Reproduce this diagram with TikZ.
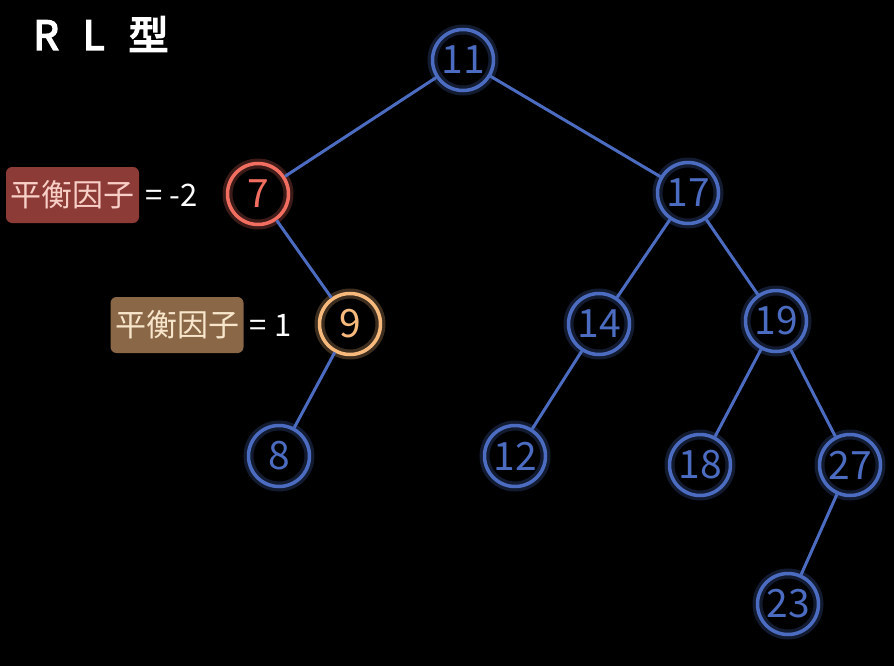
\documentclass[tikz,border=0pt]{standalone}
\usepackage{fontspec}
\setmainfont{Noto Sans CJK SC}
\newfontfamily\titlefont{Noto Sans CJK SC}[FakeBold=4]
\usetikzlibrary{positioning}
\definecolor{treeblue}{HTML}{4B6CC0}
\definecolor{treered}{HTML}{F26E60}
\definecolor{treeorange}{HTML}{F7BA7C}
\definecolor{tagred}{HTML}{8C3B37}
\definecolor{tagredtext}{HTML}{F8CFC7}
\definecolor{tagbrown}{HTML}{8A6746}
\definecolor{tagbrowntext}{HTML}{F7E6CB}
\tikzset{
  key/.style={circle, minimum size=61pt, inner sep=0pt, line width=3.5pt,
    draw=#1, text=#1, font=\fontsize{39}{42}\selectfont,
    preaction={draw=#1, line width=10pt, draw opacity=0.25}},
  key/.default=treeblue,
  edge/.style={treeblue, line width=3pt},
  tag/.style={rounded corners=6pt, minimum height=56pt, minimum width=133pt,
    inner xsep=2pt, font=\fontsize{31}{34}\selectfont},
  eqtext/.style={text=white, inner sep=0pt, font=\fontsize{31}{34}\selectfont}
}
\begin{document}
\begin{tikzpicture}[x=1pt,y=-1pt]
\fill[black] (0,0) rectangle (894,666);
\useasboundingbox (0,0) rectangle (894,666);
\node[text=white, font=\titlefont\fontsize{40}{44}\selectfont] (title) at (101,34) {R\hspace{24pt}L\hspace{24pt}型};
% tree
\node[key] (n11) at (463,60) {11};
\node[key=treered] (n7) at (258,194) {7};
\node[key] (n17) at (688,193) {17};
\node[key=treeorange] (n9) at (350,324) {9};
\node[key] (n14) at (599,324) {14};
\node[key] (n19) at (776,321) {19};
\node[key] (n8) at (279,456) {8};
\node[key] (n12) at (515,456) {12};
\node[key] (n18) at (700,465) {18};
\node[key] (n27) at (850,465) {27};
\node[key] (n23) at (788,604) {23};
\draw[edge] (n11) -- (n7); \draw[edge] (n11) -- (n17);
\draw[edge] (n7) -- (n9); \draw[edge] (n9) -- (n8);
\draw[edge] (n17) -- (n14); \draw[edge] (n17) -- (n19);
\draw[edge] (n14) -- (n12);
\draw[edge] (n19) -- (n18); \draw[edge] (n19) -- (n27);
\draw[edge] (n27) -- (n23);
% balance factors
\node[tag, fill=tagred, text=tagredtext] (bf7) at (72.5,195) {平衡因子};
\node[eqtext, right=6pt of bf7] (eq7) {= -2};
\node[tag, fill=tagbrown, text=tagbrowntext] (bf9) at (177,325) {平衡因子};
\node[eqtext, right=6pt of bf9] (eq9) {= 1};
\end{tikzpicture}
\end{document}
